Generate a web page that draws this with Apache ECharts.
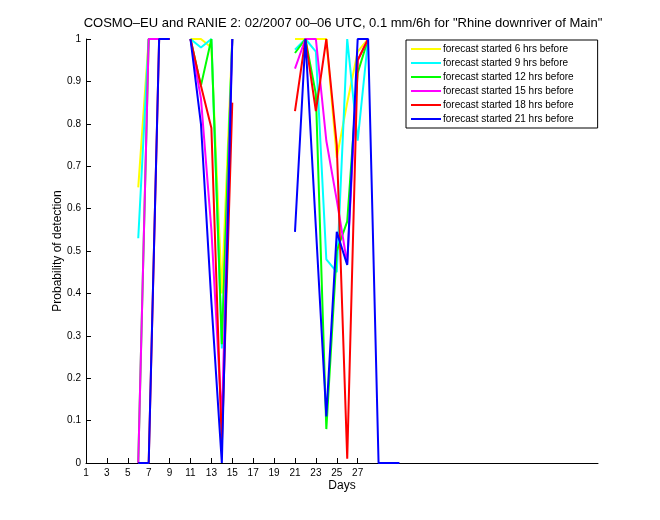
<!DOCTYPE html>
<html>
<head>
<meta charset="utf-8">
<script src="https://cdn.jsdelivr.net/npm/echarts@6/dist/echarts.min.js"></script>
<style>html,body{margin:0;padding:0;background:#fff}#c{width:660px;height:520px}</style>
</head>
<body>
<div id="c"></div>
<script>
var titleText = 'COSMO\u2013EU and RANIE 2: 02/2007 00\u201306 UTC, 0.1 mm/6h for "Rhine downriver of Main"';
var days = [1,2,3,4,5,6,7,8,9,10,11,12,13,14,15,16,17,18,19,20,21,22,23,24,25,26,27,28,29,30,31];
var xTicks = [1,3,5,7,9,11,13,15,17,19,21,23,25,27];
var yTicks = [0,0.1,0.2,0.3,0.4,0.5,0.6,0.7,0.8,0.9,1];
var seriesNames = ['forecast started 6 hrs before','forecast started 9 hrs before','forecast started 12 hrs before','forecast started 15 hrs before','forecast started 18 hrs before','forecast started 21 hrs before'];
var seriesColors = ['#ffff00','#00ffff','#00ff00','#ff00ff','#ff0000','#0000ff'];
var n = null;
var fc6  = [n,n,n,n,n,0.65,1,1,1,n,1,1,0.98,0.40,1,n,n,n,n,n,1,1,1,1,0.72,0.85,0.97,1,n,n,n];
var fc9  = [n,n,n,n,n,0.53,1,1,1,n,1,0.98,1,0.27,1,n,n,n,n,n,0.975,1,0.97,0.48,0.45,1,0.76,1,n,n,n];
var fc12 = [n,n,n,n,n,0,1,1,1,n,1,0.89,1,0.28,1,n,n,n,n,n,0.967,1,0.87,0.08,0.50,0.57,0.92,1,n,n,n];
var fc15 = [n,n,n,n,n,0,1,1,1,n,1,0.86,0.55,0.10,1,n,n,n,n,n,0.93,1,1,0.76,0.62,0.47,0.95,1,n,n,n];
var fc18 = [n,n,n,n,n,0,0,1,1,n,1,0.89,0.79,0.04,0.85,n,n,n,n,n,0.83,1,0.83,1,0.75,0.01,0.95,1,n,n,n];
var fc21 = [n,n,n,n,n,0,0,1,1,n,1,0.80,0.38,0,1,n,n,n,n,n,0.545,1,0.555,0.11,0.545,0.467,1,1,0,0,0];
var allSeries = [fc6, fc9, fc12, fc15, fc18, fc21];

var FONT = '"Liberation Sans", Arial, Helvetica, sans-serif';
var chart = echarts.init(document.getElementById('c'));
var series = allSeries.map(function (vals, i) {
  return {
    name: seriesNames[i],
    type: 'line',
    symbol: 'none',
    connectNulls: false,
    lineStyle: { color: seriesColors[i], width: 2 },
    itemStyle: { color: seriesColors[i] },
    data: days.map(function (d, j) { return [d, vals[j] === null ? '-' : vals[j]]; }),
    z: 2 + i
  };
});
chart.setOption({
  animation: false,
  backgroundColor: '#fff',
  title: {
    text: titleText, left: 338, top: 12, textAlign: 'center',
    textStyle: { fontFamily: FONT, fontSize: 13, fontWeight: 'normal', color: '#000' }
  },
  legend: {
    orient: 'vertical', left: 406, top: 40,
    backgroundColor: '#fff', borderColor: '#000', borderWidth: 1,
    padding: [4, 24, 4, 5],
    itemWidth: 30, itemHeight: 2, itemGap: 4,
    icon: 'rect',
    textStyle: { fontFamily: FONT, fontSize: 10, color: '#000', lineHeight: 10, padding: [0, 0, 0, -3] },
    data: seriesNames
  },
  grid: { left: 86, top: 39, width: 512, height: 424, containLabel: false },
  xAxis: {
    type: 'value', min: 1, max: 50,
    name: 'Days', nameLocation: 'middle', nameGap: 17, nameMoveOverlap: false,
    nameTextStyle: { fontFamily: FONT, fontSize: 12, color: '#000' },
    axisLine: { show: true, onZero: false, lineStyle: { color: '#000', width: 1 } },
    axisTick: { show: true, inside: true, length: 5, customValues: xTicks, lineStyle: { color: '#000' } },
    axisLabel: { customValues: xTicks, fontFamily: FONT, fontSize: 10, color: '#000', margin: 5 },
    splitLine: { show: false }
  },
  yAxis: {
    type: 'value', min: 0, max: 1, interval: 0.1,
    name: 'Probability of detection', nameLocation: 'middle', nameGap: 22, nameRotate: 90, nameMoveOverlap: false,
    nameTextStyle: { fontFamily: FONT, fontSize: 12, color: '#000' },
    axisLine: { show: true, lineStyle: { color: '#000', width: 1 } },
    axisTick: { show: true, inside: true, length: 5, lineStyle: { color: '#000' } },
    axisLabel: { fontFamily: FONT, fontSize: 10, color: '#000', margin: 5,
      formatter: function (v) { return String(Math.round(v * 10) / 10); } },
    splitLine: { show: false }
  },
  series: series
});
</script>
</body>
</html>
